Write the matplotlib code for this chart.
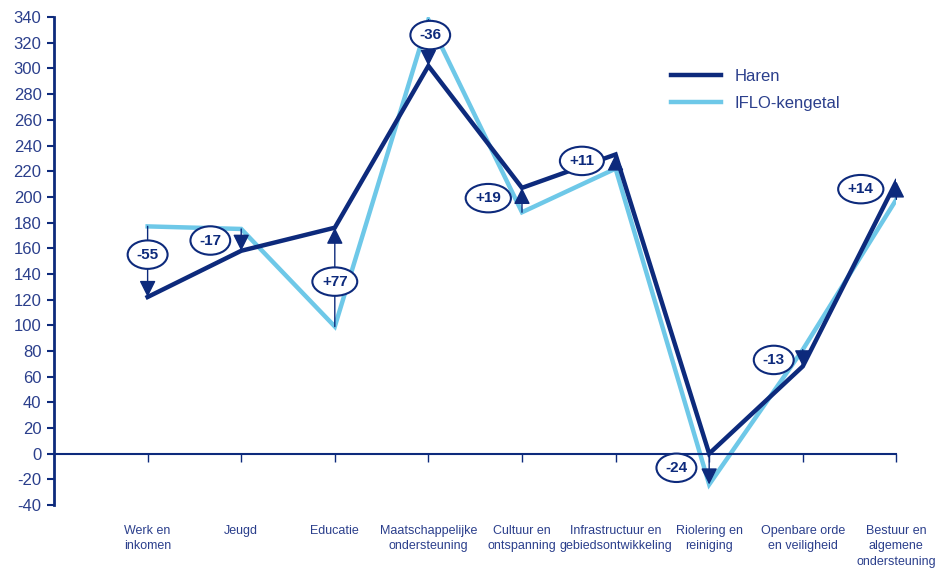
import numpy as np
import matplotlib.pyplot as plt

plt.rcParams['font.family'] = ['Liberation Sans', 'DejaVu Sans']
plt.rcParams['axes.unicode_minus'] = False

# categorieën en waarden per inwoner
categories = ['Werk en\ninkomen', 'Jeugd', 'Educatie', 'Maatschappelijke\nondersteuning',
              'Cultuur en\nontspanning', 'Infrastructuur en\ngebiedsontwikkeling',
              'Riolering en\nreiniging', 'Openbare orde\nen veiligheid',
              'Bestuur en\nalgemene\nondersteuning']
haren = [122, 158, 176, 302, 207, 233, 0, 68, 212]
iflo = [177, 175, 99, 338, 188, 222, -24, 81, 198]
verschil = [-55, -17, 77, -36, 19, 11, -24, -13, 14]

# plaats van de ovale labels (x-verschuiving, y)
label_pos = [(0.0, 155), (-0.33, 166), (0.0, 134), (0.02, 326), (-0.36, 199),
             (-0.36, 228), (-0.35, -11), (-0.31, 73), (-0.38, 206)]

navy = '#0d2a7c'
light = '#6ec8e8'
txt = '#2b3f8c'

x = np.arange(1, len(categories) + 1)

fig = plt.figure(figsize=(9.38, 5.7), dpi=100)
ax = fig.add_axes([0.0576, 0.114, 0.898, 0.856])

ax.plot(x, haren, color=navy, lw=3.2, label='Haren', zorder=3, solid_joinstyle='miter')
ax.plot(x, iflo, color=light, lw=3.2, label='IFLO-kengetal', zorder=2, solid_joinstyle='miter')

# pijlen met verschil
for xi, h, i, d, (dx, ly) in zip(x, haren, iflo, verschil, label_pos):
    top, bot = max(h, i), min(h, i)
    start, end = (top, bot) if d < 0 else (bot, top)
    ax.annotate('', xy=(xi, end), xytext=(xi, start),
                arrowprops=dict(arrowstyle='-|>,head_length=1.0,head_width=0.5',
                                color=navy, lw=1, shrinkA=0, shrinkB=0),
                zorder=4)
    ax.text(xi + dx, ly, f'{d:+d}', ha='center', va='center', fontsize=11,
            fontweight='bold', color=navy, zorder=5,
            bbox=dict(boxstyle='ellipse,pad=0.2', fc='white', ec=navy, lw=1.5))

ax.set_xlim(0, 9)
ax.set_ylim(-40, 340)
ax.set_yticks(np.arange(-40, 341, 20))
ax.tick_params(axis='y', colors=navy, labelsize=12, length=5, width=1.5, pad=4)
for lab in ax.get_yticklabels():
    lab.set_color(txt)

for s in ['top', 'right']:
    ax.spines[s].set_visible(False)
ax.spines['left'].set_color(navy)
ax.spines['left'].set_linewidth(2)
ax.spines['bottom'].set_position(('data', 0))
ax.spines['bottom'].set_color(navy)
ax.spines['bottom'].set_linewidth(1.5)
ax.set_xticks(x)
ax.set_xticklabels([])
ax.tick_params(axis='x', colors=navy, length=6, width=1, direction='out')

trans = ax.get_xaxis_transform()
for xi, c in zip(x, categories):
    ax.text(xi, -0.04, c, transform=trans, ha='center', va='top', fontsize=9,
            color=txt, linespacing=1.4)

ax.legend(loc='upper left', bbox_to_anchor=(0.715, 0.925), frameon=False, fontsize=12,
          handlelength=3.0, labelspacing=0.75, labelcolor=txt)

fig.savefig('out.png', dpi=100)
